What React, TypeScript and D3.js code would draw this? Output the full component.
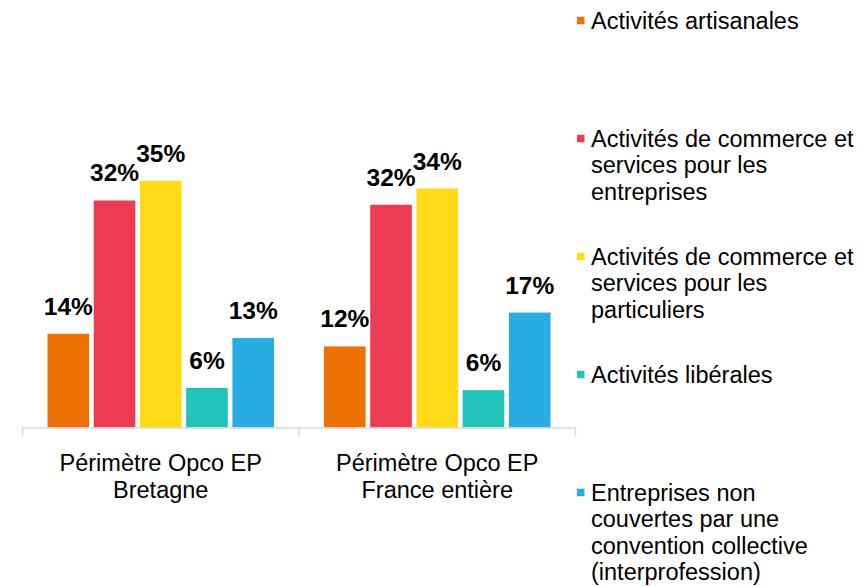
import React, { useEffect, useRef } from 'react';
import * as d3 from 'd3';

// categories on the x axis (each split in two lines)
const categories = ['Périmètre Opco EP Bretagne', 'Périmètre Opco EP France entière'];
const categoryLines = [
  ['Périmètre Opco EP', 'Bretagne'],
  ['Périmètre Opco EP', 'France entière'],
];

const series = [
  'Activités artisanales',
  'Activités de commerce et services pour les entreprises',
  'Activités de commerce et services pour les particuliers',
  'Activités libérales',
  'Entreprises non couvertes par une convention collective (interprofession)',
];
const legendLines = [
  ['Activités artisanales'],
  ['Activités de commerce et', 'services pour les', 'entreprises'],
  ['Activités de commerce et', 'services pour les', 'particuliers'],
  ['Activités libérales'],
  ['Entreprises non', 'couvertes par une', 'convention collective', '(interprofession)'],
];

// values (%) per category, in series order
const bretagneValues = [13.3, 32.2, 35.0, 5.6, 12.7];
const franceValues = [11.5, 31.6, 33.9, 5.3, 16.3];
const bretagneLabels = ['14%', '32%', '35%', '6%', '13%'];
const franceLabels = ['12%', '32%', '34%', '6%', '17%'];

const colors = ['#EE7105', '#EB3C53', '#FFDA16', '#22C1BA', '#28ACE2'];

const App = () => {
  const chartRef = useRef<SVGSVGElement>(null);

  useEffect(() => {
    const svg = d3.select(chartRef.current);
    svg.selectAll('*').remove();

    const width = 866;
    const height = 586;
    const font = '"Liberation Sans", Arial, sans-serif';
    const fontSize = 23.5;

    const rows = [
      { values: bretagneValues, labels: bretagneLabels },
      { values: franceValues, labels: franceLabels },
    ];

    const x0 = d3.scaleBand()
      .domain(categories)
      .range([22.5, 575.5])
      .padding(0);

    const x1 = d3.scaleBand()
      .domain(series)
      .range([25, x0.bandwidth() - 25])
      .paddingInner(0.1);

    const y = d3.scaleLinear()
      .domain([0, 40])
      .range([427.5, 427.5 - 40 * 7.05]);

    svg.attr('width', width).attr('height', height);

    const groups = svg.append('g')
      .selectAll('g')
      .data(rows)
      .join('g')
        .attr('transform', (d, i) => `translate(${x0(categories[i])},0)`);

    groups.selectAll('rect')
      .data(d => d.values.map((v, j) => ({ v, j })))
      .join('rect')
        .attr('x', d => x1(series[d.j]))
        .attr('y', d => y(d.v))
        .attr('width', x1.bandwidth())
        .attr('height', d => y(0) - y(d.v))
        .attr('fill', d => colors[d.j]);

    groups.selectAll('text')
      .data(d => d.values.map((v, j) => ({ v, j, label: d.labels[j] })))
      .join('text')
        .attr('x', d => x1(series[d.j]) + x1.bandwidth() / 2)
        .attr('y', d => y(d.v) - 19)
        .attr('text-anchor', 'middle')
        .attr('font-family', font)
        .attr('font-size', 24.5)
        .attr('font-weight', 'bold')
        .attr('fill', '#000')
        .text(d => d.label);

    // axis line with category boundary ticks
    const axis = svg.append('g').attr('stroke', '#d9d9d9').attr('stroke-width', 1.5);
    axis.append('line')
      .attr('x1', x0.range()[0]).attr('x2', x0.range()[1])
      .attr('y1', y(0) + 0.5).attr('y2', y(0) + 0.5);
    const bounds = [...categories.map(c => x0(c)), x0.range()[1]];
    axis.selectAll('line.tick')
      .data(bounds)
      .join('line')
        .attr('class', 'tick')
        .attr('x1', d => d).attr('x2', d => d)
        .attr('y1', y(0) + 0.5).attr('y2', y(0) + 9);

    // category labels
    svg.append('g')
      .selectAll('text')
      .data(categories)
      .join('text')
        .attr('x', d => x0(d) + x0.bandwidth() / 2)
        .attr('y', 470.5)
        .attr('text-anchor', 'middle')
        .attr('font-family', font)
        .attr('font-size', fontSize)
        .attr('fill', '#000')
        .selectAll('tspan')
        .data((d, i) => categoryLines[i])
        .join('tspan')
          .attr('x', function () { return (this.parentNode as SVGTextElement).getAttribute('x'); })
          .attr('dy', (d, i) => (i === 0 ? 0 : 27))
          .text(d => d);

    // legend
    const legend = svg.append('g')
      .selectAll('g')
      .data(series)
      .join('g')
        .attr('transform', (d, i) => `translate(577,${20.5 + i * 118})`);

    legend.append('rect')
      .attr('x', 0)
      .attr('y', -3.75)
      .attr('width', 7.5)
      .attr('height', 7.5)
      .attr('fill', (d, i) => colors[i]);

    legend.append('text')
      .attr('x', 14)
      .attr('y', 8.4)
      .attr('font-family', font)
      .attr('font-size', fontSize)
      .attr('fill', '#000')
      .selectAll('tspan')
      .data((d, i) => legendLines[i])
      .join('tspan')
        .attr('x', 14)
        .attr('dy', (d, i) => (i === 0 ? 0 : 26.5))
        .text(d => d);
  }, []);

  return (
    <svg
      ref={chartRef}
      width="866"
      height="586"
      style={{ position: 'absolute', left: 0, top: 0 }}
    ></svg>
  );
};

export default App;
